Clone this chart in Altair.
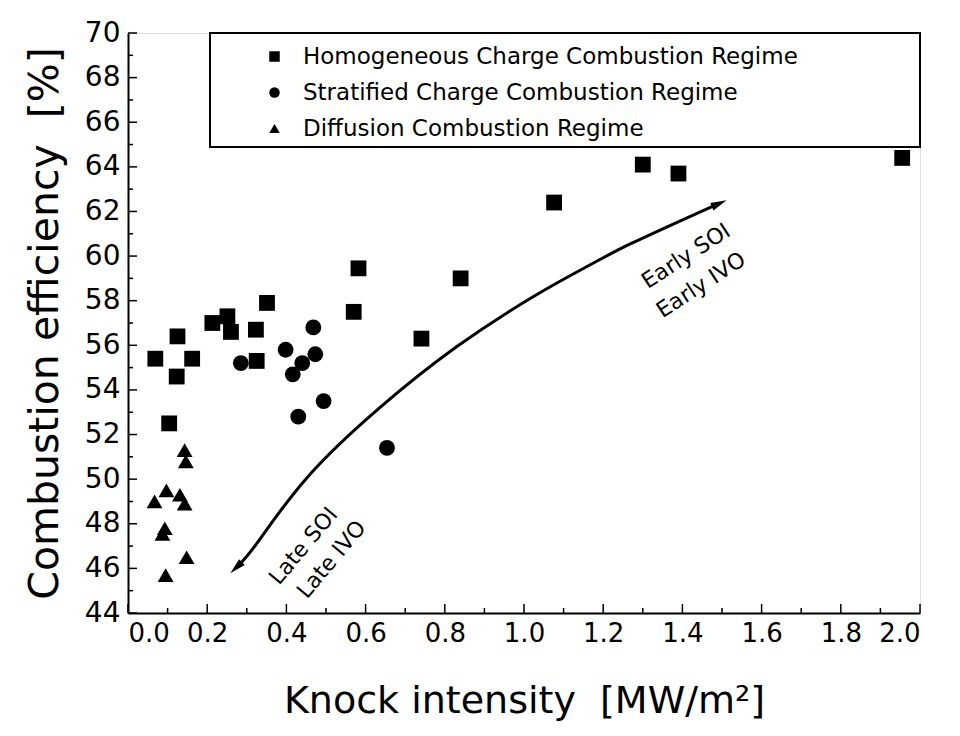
import altair as alt
import pandas as pd

# ---- data ----
homog_x = [0.069, 0.125, 0.123, 0.162, 0.104, 0.213, 0.251, 0.260, 0.323, 0.325, 0.351,
           0.570, 0.582, 0.741, 0.840, 1.076, 1.300, 1.390, 1.955]
homog_y = [55.4, 56.4, 54.6, 55.4, 52.5, 57.0, 57.3, 56.6, 56.7, 55.3, 57.9,
           57.5, 59.45, 56.3, 59.0, 62.4, 64.1, 63.7, 64.4]

strat_x = [0.285, 0.398, 0.468, 0.473, 0.440, 0.416, 0.494, 0.430, 0.654]
strat_y = [55.2, 55.8, 56.8, 55.6, 55.2, 54.7, 53.5, 52.8, 51.4]

diff_x = [0.143, 0.146, 0.097, 0.067, 0.131, 0.143, 0.093, 0.087, 0.148, 0.095]
diff_y = [51.3, 50.8, 49.5, 49.0, 49.3, 48.9, 47.8, 47.55, 46.5, 45.7]

regimes = ["Homogeneous Charge Combustion Regime",
           "Stratified Charge Combustion Regime",
           "Diffusion Combustion Regime"]

# arrow curve (annotation)
arrow_x = [0.273, 0.311, 0.438, 0.633, 0.828, 1.038, 1.190, 1.248, 1.443, 1.493]
arrow_y = [46.03, 46.68, 50.04, 53.23, 56.01, 58.39, 59.82, 60.40, 61.97, 62.36]
head_x = [1.493, 0.273]
head_y = [62.36, 46.03]
head_angle = [66, 226]

ann_text = ["Late SOI", "Late IVO", "Early SOI", "Early IVO"]
ann_x = [0.443, 0.514, 1.409, 1.447]
ann_y = [47.0, 46.4, 60.0, 58.7]
ann_angle = [310, 310, 327, 327]

x_major = [round(0.2 * i, 1) for i in range(11)]
x_minor = [round(0.1 + 0.2 * i, 1) for i in range(10)]
y_major = list(range(44, 71, 2))
y_minor = list(range(45, 70, 2))

W, H = 792, 580
FONT = "DejaVu Sans"
SP = "\u00a0\u00a0"

pts = pd.DataFrame({
    "x": homog_x + strat_x + diff_x,
    "y": homog_y + strat_y + diff_y,
    "regime": [regimes[0]] * len(homog_x) + [regimes[1]] * len(strat_x) + [regimes[2]] * len(diff_x),
})

xs = alt.Scale(domain=[0, 2], nice=False, zero=False)
ys = alt.Scale(domain=[44, 70], nice=False, zero=False)

points = alt.Chart(pts).mark_point(filled=True, opacity=1, color="black", size=250).encode(
    x=alt.X("x:Q", scale=xs,
            axis=alt.Axis(values=x_major, format=".1f", title="Knock intensity" + SP + "[MW/m²]",
                          ticks=False, grid=False, labelFontSize=26, labelFont=FONT,
                          labelColor="black", labelPadding=7, titleFontSize=38,
                          titleFont=FONT, titleFontWeight="normal", titleColor="black",
                          titlePadding=36, domainColor="black", domainWidth=2)),
    y=alt.Y("y:Q", scale=ys,
            axis=alt.Axis(values=y_major, format="d", title="Combustion efficiency" + SP + "[%]",
                          ticks=False, grid=False, labelFontSize=28, labelFont=FONT,
                          labelColor="black", labelPadding=8, titleFontSize=41,
                          titleFont=FONT, titleFontWeight="normal", titleColor="black",
                          titlePadding=18, domainColor="black", domainWidth=2)),
    shape=alt.Shape("regime:N",
                    scale=alt.Scale(domain=regimes, range=["square", "circle", "triangle-up"]),
                    legend=alt.Legend(title=None, orient="none", legendX=135, legendY=12,
                                      labelFontSize=23, labelFont=FONT, labelColor="black",
                                      symbolSize=110, symbolFillColor="black",
                                      symbolStrokeColor="black", symbolType="square",
                                      rowPadding=12, labelOffset=17, labelLimit=700)),
)

legend_box = alt.Chart(pd.DataFrame({"d": [0]})).mark_rect(
    fill="white", stroke="black", strokeWidth=2
).encode(x=alt.value(82), x2=alt.value(W), y=alt.value(0), y2=alt.value(114))

curve = alt.Chart(pd.DataFrame({"x": arrow_x, "y": arrow_y})).mark_line(
    color="black", strokeWidth=3, interpolate="basis"
).encode(x=alt.X("x:Q", scale=xs), y=alt.Y("y:Q", scale=ys))

heads = alt.Chart(pd.DataFrame({"x": head_x, "y": head_y, "a": head_angle})).mark_point(
    shape="M0,-1L0.5,1L-0.5,1Z", filled=True, color="black", opacity=1, size=260
).encode(x=alt.X("x:Q", scale=xs), y=alt.Y("y:Q", scale=ys),
         angle=alt.Angle("a:Q", scale=None))

ann = alt.Chart(pd.DataFrame({"t": ann_text, "x": ann_x, "y": ann_y, "a": ann_angle})).mark_text(
    fontSize=22, font=FONT, color="black"
).encode(x=alt.X("x:Q", scale=xs), y=alt.Y("y:Q", scale=ys), text="t:N",
         angle=alt.Angle("a:Q", scale=None))

xmaj = alt.Chart(pd.DataFrame({"x": x_major})).mark_rule(color="black", strokeWidth=1.5).encode(
    x=alt.X("x:Q", scale=xs), y=alt.value(H), y2=alt.value(H - 9))
xmin = alt.Chart(pd.DataFrame({"x": x_minor})).mark_rule(color="black", strokeWidth=1.5).encode(
    x=alt.X("x:Q", scale=xs), y=alt.value(H), y2=alt.value(H - 5))
ymaj = alt.Chart(pd.DataFrame({"y": y_major})).mark_rule(color="black", strokeWidth=1.5).encode(
    y=alt.Y("y:Q", scale=ys), x=alt.value(0), x2=alt.value(9))
ymin = alt.Chart(pd.DataFrame({"y": y_minor})).mark_rule(color="black", strokeWidth=1.5).encode(
    y=alt.Y("y:Q", scale=ys), x=alt.value(0), x2=alt.value(5))

chart = alt.layer(
    legend_box, points, xmaj, xmin, ymaj, ymin, curve, heads, ann
).properties(
    width=W, height=H,
    autosize=alt.AutoSizeParams(type="none"),
    padding={"left": 120, "top": 25, "right": 25, "bottom": 112},
).configure_view(
    stroke="black", strokeWidth=2
).configure(background="white")

chart.save("out.html", embed_options={"renderer": "svg", "actions": False})
